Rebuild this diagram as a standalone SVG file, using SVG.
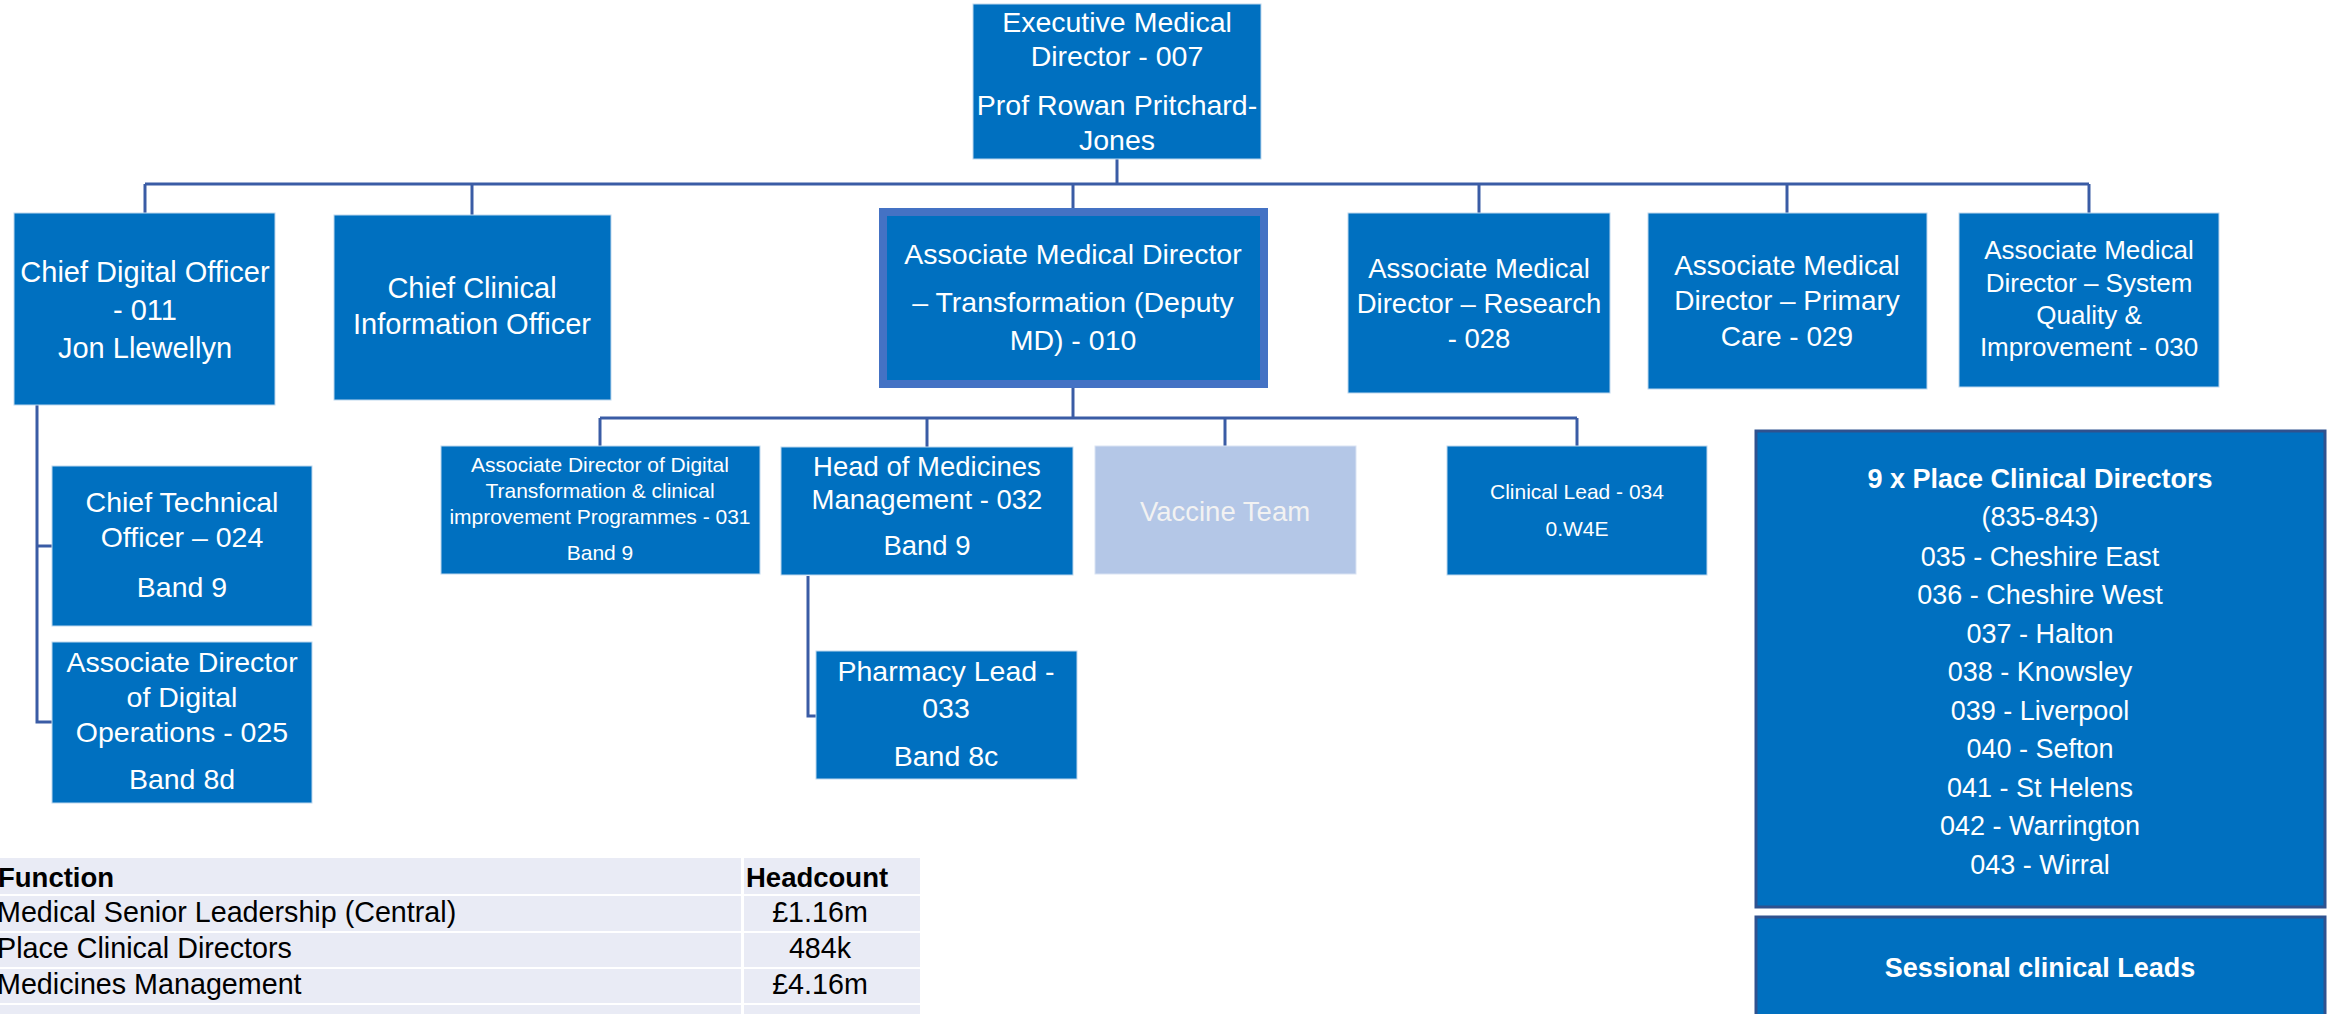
<svg xmlns="http://www.w3.org/2000/svg" width="2333" height="1014" viewBox="0 0 2333 1014">
<style>
.box{fill:#0070C0;stroke:#BDD7EE;stroke-width:1}
.t{font-family:"Liberation Sans",Arial,sans-serif;fill:#FFFFFF;text-anchor:middle}
.b{font-weight:bold}
.conn{fill:none;stroke:#3A5CA5;stroke-width:3}
.cell{fill:#E9EBF5}
.tt{font-family:"Liberation Sans",Arial,sans-serif;fill:#000000;font-size:28.7px}
.th{font-size:27.5px}
</style>
<rect width="2333" height="1014" fill="#FFFFFF"/>

<g id="connectors">
<path class="conn" d="M1117 159 V184"/>
<path class="conn" d="M145 184 H2089"/>
<path class="conn" d="M145 184 V214"/>
<path class="conn" d="M472 184 V215"/>
<path class="conn" d="M1073 184 V208"/>
<path class="conn" d="M1479 184 V213"/>
<path class="conn" d="M1787 184 V213"/>
<path class="conn" d="M2089 184 V213"/>
<path class="conn" d="M1073 388 V418"/>
<path class="conn" d="M600 418 H1577"/>
<path class="conn" d="M600 418 V446"/>
<path class="conn" d="M927 418 V447"/>
<path class="conn" d="M1225 418 V446"/>
<path class="conn" d="M1577 418 V446"/>
<path class="conn" d="M37 405 V722 H52"/>
<path class="conn" d="M37 546 H52"/>
<path class="conn" d="M808 576 V716 H816"/>
</g>

<g id="exec">
<rect class="box" x="973" y="4" width="288" height="155"/>
<text class="t" font-size="28.5"><tspan x="1117" y="32">Executive Medical</tspan><tspan x="1117" y="66">Director - 007</tspan><tspan x="1117" y="115">Prof Rowan Pritchard-</tspan><tspan x="1117" y="150">Jones</tspan></text>
</g>

<g id="cdo">
<rect class="box" x="14" y="213" width="261" height="192"/>
<text class="t" font-size="29"><tspan x="145" y="282">Chief Digital Officer</tspan><tspan x="145" y="320">- 011</tspan><tspan x="145" y="358">Jon Llewellyn</tspan></text>
</g>

<g id="ccio">
<rect class="box" x="334" y="215" width="277" height="185"/>
<text class="t" font-size="29"><tspan x="472" y="298">Chief Clinical</tspan><tspan x="472" y="334">Information Officer</tspan></text>
</g>

<g id="amd-transformation">
<rect x="883" y="212" width="381" height="172" fill="#0070C0" stroke="#4472C4" stroke-width="8"/>
<text class="t" font-size="28.5"><tspan x="1073" y="264">Associate Medical Director</tspan><tspan x="1073" y="312">– Transformation (Deputy</tspan><tspan x="1073" y="350">MD) - 010</tspan></text>
</g>

<g id="amd-research">
<rect class="box" x="1348" y="213" width="262" height="180"/>
<text class="t" font-size="27.5"><tspan x="1479" y="278">Associate Medical</tspan><tspan x="1479" y="313">Director – Research</tspan><tspan x="1479" y="348">- 028</tspan></text>
</g>

<g id="amd-primary">
<rect class="box" x="1648" y="213" width="279" height="176"/>
<text class="t" font-size="28"><tspan x="1787" y="275">Associate Medical</tspan><tspan x="1787" y="310">Director – Primary</tspan><tspan x="1787" y="346">Care - 029</tspan></text>
</g>

<g id="amd-system">
<rect class="box" x="1959" y="213" width="260" height="174"/>
<text class="t" font-size="26"><tspan x="2089" y="259">Associate Medical</tspan><tspan x="2089" y="292">Director – System</tspan><tspan x="2089" y="324">Quality &amp;</tspan><tspan x="2089" y="356">Improvement - 030</tspan></text>
</g>

<g id="cto">
<rect class="box" x="52" y="466" width="260" height="160"/>
<text class="t" font-size="28.5"><tspan x="182" y="512">Chief Technical</tspan><tspan x="182" y="547">Officer – 024</tspan><tspan x="182" y="597">Band 9</tspan></text>
</g>

<g id="ad-ops">
<rect class="box" x="52" y="642" width="260" height="161"/>
<text class="t" font-size="28.5"><tspan x="182" y="672">Associate Director</tspan><tspan x="182" y="707">of Digital</tspan><tspan x="182" y="742">Operations - 025</tspan><tspan x="182" y="789">Band 8d</tspan></text>
</g>

<g id="ad-transformation">
<rect class="box" x="441" y="446" width="319" height="128"/>
<text class="t" font-size="21"><tspan x="600" y="472">Associate Director of Digital</tspan><tspan x="600" y="498">Transformation &amp; clinical</tspan><tspan x="600" y="524">improvement Programmes - 031</tspan><tspan x="600" y="560">Band 9</tspan></text>
</g>

<g id="head-medicines">
<rect class="box" x="781" y="447" width="292" height="128"/>
<text class="t" font-size="27.5"><tspan x="927" y="476">Head of Medicines</tspan><tspan x="927" y="509">Management - 032</tspan><tspan x="927" y="555">Band 9</tspan></text>
</g>

<g id="vaccine">
<rect x="1095" y="446" width="261" height="128" fill="#B4C7E7" stroke="#DAE3F3" stroke-width="1"/>
<text class="t" font-size="27.5" style="fill:#F2F2F2"><tspan x="1225" y="521">Vaccine Team</tspan></text>
</g>

<g id="clinical-lead">
<rect class="box" x="1447" y="446" width="260" height="129"/>
<text class="t" font-size="21"><tspan x="1577" y="499">Clinical Lead - 034</tspan><tspan x="1577" y="536">0.W4E</tspan></text>
</g>

<g id="pharmacy">
<rect class="box" x="816" y="651" width="261" height="128"/>
<text class="t" font-size="28.5"><tspan x="946" y="681">Pharmacy Lead -</tspan><tspan x="946" y="718">033</tspan><tspan x="946" y="766">Band 8c</tspan></text>
</g>

<g id="place-directors">
<rect x="1756" y="431" width="569" height="476" fill="#0070C0" stroke="#2F528F" stroke-width="3"/>
<text class="t" font-size="27"><tspan class="b" x="2040" y="488">9 x Place Clinical Directors</tspan><tspan x="2040" y="526">(835-843)</tspan><tspan x="2040" y="566">035 - Cheshire East</tspan><tspan x="2040" y="604">036 - Cheshire West</tspan><tspan x="2040" y="643">037 - Halton</tspan><tspan x="2040" y="681">038 - Knowsley</tspan><tspan x="2040" y="720">039 - Liverpool</tspan><tspan x="2040" y="758">040 - Sefton</tspan><tspan x="2040" y="797">041 - St Helens</tspan><tspan x="2040" y="835">042 - Warrington</tspan><tspan x="2040" y="874">043 - Wirral</tspan></text>
</g>

<g id="sessional">
<rect x="1756" y="917" width="569" height="110" fill="#0070C0" stroke="#2F528F" stroke-width="3"/>
<text class="t b" font-size="27" x="2040" y="977">Sessional clinical Leads</text>
</g>

<g id="table">
<rect class="cell" x="0" y="858" width="741" height="36"/>
<rect class="cell" x="744" y="858" width="176" height="36"/>
<rect class="cell" x="0" y="896" width="741" height="35"/>
<rect class="cell" x="744" y="896" width="176" height="35"/>
<rect class="cell" x="0" y="933" width="741" height="34"/>
<rect class="cell" x="744" y="933" width="176" height="34"/>
<rect class="cell" x="0" y="969" width="741" height="34"/>
<rect class="cell" x="744" y="969" width="176" height="34"/>
<rect class="cell" x="0" y="1005" width="741" height="12"/>
<rect class="cell" x="744" y="1005" width="176" height="12"/>
<text class="tt th b" x="-2" y="887">Function</text>
<text class="tt th b" x="746" y="887">Headcount</text>
<text class="tt" x="-3" y="922">Medical Senior Leadership (Central)</text>
<text class="tt" x="820" y="922" text-anchor="middle">£1.16m</text>
<text class="tt" x="-3" y="958">Place Clinical Directors</text>
<text class="tt" x="820" y="958" text-anchor="middle">484k</text>
<text class="tt" x="-3" y="994">Medicines Management</text>
<text class="tt" x="820" y="994" text-anchor="middle">£4.16m</text>
</g>
</svg>
